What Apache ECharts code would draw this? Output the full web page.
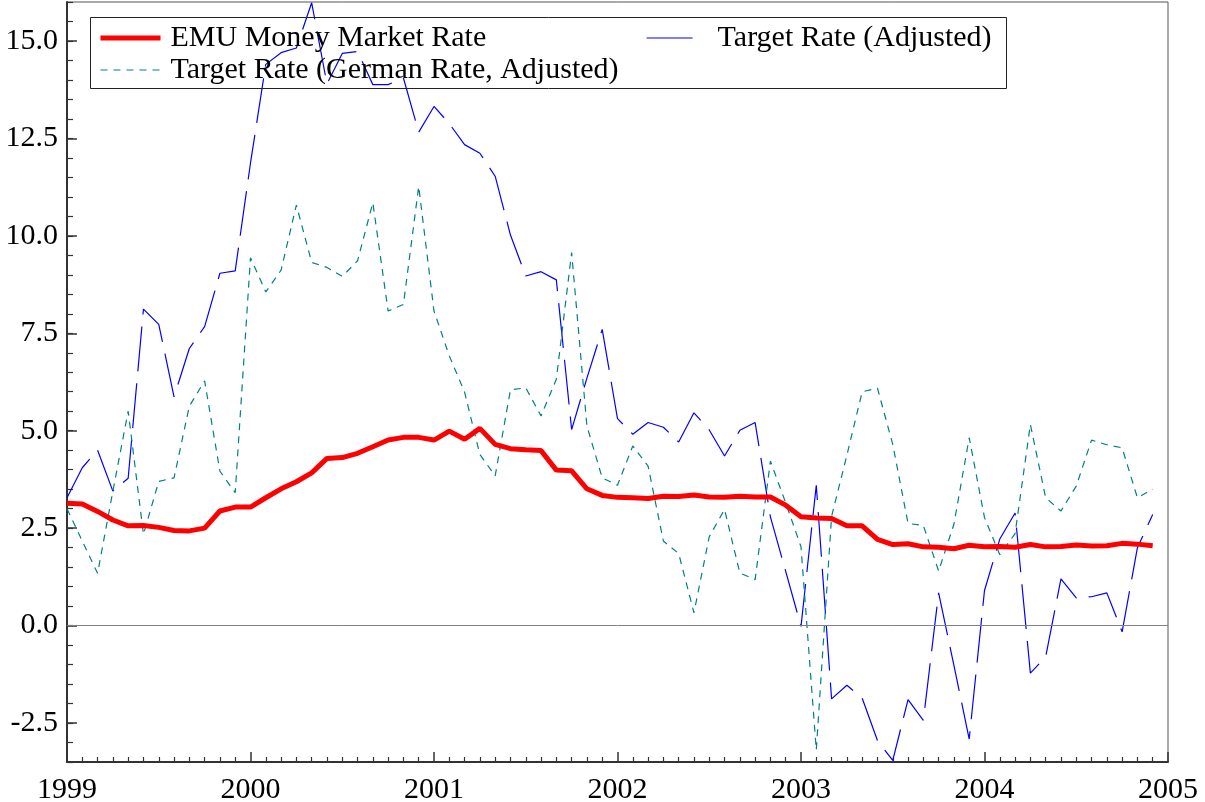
<!DOCTYPE html>
<html>
<head>
<meta charset="utf-8">
<script src="https://cdn.jsdelivr.net/npm/echarts@6/dist/echarts.min.js"></script>
<style>
    html, body { margin: 0; padding: 0; background: #fff; }
    #chart { width: 1205px; height: 802px; }
</style>
</head>
<body>
<div id="chart"></div>
<script>
// monthly observations, Jan 1999 .. Dec 2004
const startYear = 1999;
const months = [];
for (let y = 0; y < 6; y++) {
    for (let m = 0; m < 12; m++) {
        months.push(startYear + y + m / 12);
    }
}

// EMU money market rate
const emuRate = [
    3.14, 3.12, 2.93, 2.71, 2.56, 2.57, 2.52, 2.44, 2.43, 2.50, 2.94, 3.04,
    3.04, 3.28, 3.51, 3.69, 3.92, 4.29, 4.31, 4.42, 4.59, 4.76, 4.83, 4.83,
    4.76, 4.99, 4.78, 5.06, 4.65, 4.54, 4.51, 4.49, 3.99, 3.97, 3.51, 3.34,
    3.29, 3.28, 3.26, 3.32, 3.31, 3.35, 3.30, 3.29, 3.32, 3.30, 3.30, 3.09,
    2.79, 2.76, 2.75, 2.56, 2.56, 2.21, 2.08, 2.10, 2.02, 2.01, 1.97, 2.06,
    2.02, 2.03, 2.01, 2.08, 2.02, 2.03, 2.07, 2.04, 2.05, 2.11, 2.09, 2.05
];

// target rate (adjusted)
const targetRate = [
    3.28, 4.05, 4.50, 3.45, 3.78, 8.12, 7.73, 5.87, 7.11, 7.67, 9.04, 9.10,
    11.87, 14.40, 14.70, 14.82, 15.98, 13.90, 14.68, 14.73, 13.88, 13.88, 14.05, 12.66,
    13.32, 12.88, 12.34, 12.12, 11.53, 10.02, 8.97, 9.08, 8.87, 5.03, 6.35, 7.60,
    5.31, 4.91, 5.21, 5.09, 4.71, 5.46, 5.02, 4.35, 5.01, 5.21, 2.79, 1.39,
    -0.02, 3.60, -1.88, -1.53, -1.86, -2.95, -3.46, -1.90, -2.43, 0.84, -1.02, -2.91,
    0.90, 2.22, 2.89, -1.22, -0.80, 1.20, 0.71, 0.74, 0.84, -0.16, 2.00, 2.85
];

// target rate (German rate, adjusted)
const germanRate = [
    3.00, 2.17, 1.34, 3.45, 5.50, 2.34, 3.70, 3.79, 5.63, 6.28, 3.96, 3.41,
    9.44, 8.56, 9.12, 10.79, 9.32, 9.19, 8.96, 9.36, 10.85, 8.07, 8.24, 11.27,
    8.07, 6.92, 5.99, 4.39, 3.84, 6.05, 6.10, 5.38, 6.32, 9.57, 5.12, 3.79,
    3.60, 4.61, 4.09, 2.17, 1.85, 0.33, 2.28, 2.98, 1.35, 1.18, 4.22, 3.15,
    2.02, -3.19, 2.80, 4.37, 6.00, 6.09, 4.65, 2.62, 2.57, 1.40, 2.60, 4.82,
    2.77, 1.82, 2.36, 5.16, 3.28, 2.94, 3.58, 4.76, 4.64, 4.56, 3.28, 3.50
];

const yTicks = [-2.5, 0, 2.5, 5, 7.5, 10, 12.5, 15];
const xTicks = [1999, 2000, 2001, 2002, 2003, 2004, 2005];

const NAME_EMU = 'EMU Money Market Rate';
const NAME_TARGET = 'Target Rate (Adjusted)';
const NAME_GERMAN = 'Target Rate (German Rate, Adjusted)';

const FONT = "'Liberation Serif', 'Times New Roman', serif";

const RED = '#ff0000';
const BLUE = '#0000ff';
const TEAL = '#008080';

const styleEmu = {color: RED, width: 5, type: 'solid'};
const styleTarget = {color: BLUE, width: 1.2, type: [45, 12]};
const styleGerman = {color: TEAL, width: 1.2, type: [7, 6]};

function pairs(values) {
    return values.map((v, i) => [months[i], v]);
}

const chart = echarts.init(document.getElementById('chart'));

const legendText = {
    fontFamily: FONT,
    fontSize: 30,
    color: '#000',
    lineHeight: 32
};

const option = {
    backgroundColor: '#fff',
    animation: false,
    grid: {
        left: 67,
        top: 2,
        width: 1101,
        height: 760,
        outerBoundsMode: 'none',
        containLabel: false,
        show: true,
        borderColor: '#555',
        borderWidth: 1
    },
    graphic: [{
        type: 'rect',
        shape: {x: 90.5, y: 17.5, width: 916, height: 71},
        style: {fill: 'none', stroke: '#222', lineWidth: 1},
        z: 100
    }],
    legend: [
        {
            orient: 'vertical',
            left: 98,
            top: 22,
            padding: 0,
            itemWidth: 60,
            itemHeight: 14,
            itemGap: 0,
            itemStyle: {opacity: 0},
            data: [
                {name: NAME_EMU, lineStyle: styleEmu},
                {name: NAME_GERMAN, lineStyle: styleGerman}
            ],
            textStyle: Object.assign({padding: [0, 0, 0, 5]}, legendText)
        },
        {
            orient: 'vertical',
            left: 646,
            top: 22,
            padding: 0,
            itemWidth: 46,
            itemHeight: 14,
            itemGap: 0,
            itemStyle: {opacity: 0},
            data: [
                {name: NAME_TARGET, lineStyle: {color: BLUE, width: 1.2, type: 'solid'}}
            ],
            textStyle: Object.assign({padding: [0, 0, 0, 20]}, legendText)
        }
    ],
    xAxis: {
        type: 'value',
        min: xTicks[0],
        max: xTicks[xTicks.length - 1],
        interval: 1,
        axisLine: {onZero: false, lineStyle: {color: '#333', width: 2}},
        axisTick: {inside: true, length: 10, lineStyle: {color: '#333', width: 1.5}},
        minorTick: {show: true, splitNumber: 12, length: 5, lineStyle: {color: '#333', width: 1.2}},
        splitLine: {show: false},
        axisLabel: {
            fontFamily: FONT,
            fontSize: 30,
            color: '#000',
            margin: 13,
            formatter: v => String(v)
        }
    },
    yAxis: [
        {
            type: 'value',
            min: -3.5,
            max: 16,
            axisLine: {show: true, lineStyle: {color: '#333', width: 2}},
            axisTick: {show: true, inside: true, length: 10, customValues: yTicks,
                lineStyle: {color: '#333', width: 1.5}},
            splitLine: {show: false},
            axisLabel: {
                fontFamily: FONT,
                fontSize: 30,
                color: '#000',
                margin: 9,
                customValues: yTicks,
                formatter: v => v.toFixed(1)
            }
        },
        {
            // minor ticks every 0.5
            type: 'value',
            position: 'left',
            min: -3.5,
            max: 16,
            interval: 0.5,
            axisLine: {show: false},
            axisTick: {show: true, inside: true, length: 6, lineStyle: {color: '#333', width: 1.2}},
            axisLabel: {show: false},
            splitLine: {show: false}
        }
    ],
    series: [
        {
            name: NAME_TARGET,
            type: 'line',
            data: pairs(targetRate),
            symbol: 'none',
            lineStyle: styleTarget,
            itemStyle: {color: BLUE},
            markLine: {
                silent: true,
                symbol: ['none', 'none'],
                label: {show: false},
                lineStyle: {color: '#808080', width: 1, type: 'solid'},
                data: [{yAxis: 0}]
            }
        },
        {
            name: NAME_GERMAN,
            type: 'line',
            data: pairs(germanRate),
            symbol: 'none',
            lineStyle: styleGerman,
            itemStyle: {color: TEAL}
        },
        {
            name: NAME_EMU,
            type: 'line',
            data: pairs(emuRate),
            symbol: 'none',
            lineStyle: styleEmu,
            itemStyle: {color: RED}
        }
    ]
};

chart.setOption(option);
</script>
</body>
</html>
